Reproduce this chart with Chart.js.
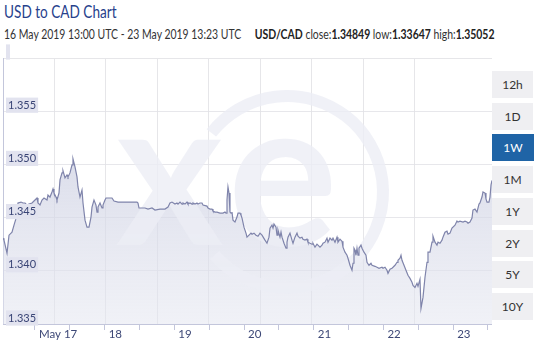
<!DOCTYPE html>
<html>
<head>
<meta charset="utf-8">
<script src="https://cdn.jsdelivr.net/npm/chart.js@4.4.0/dist/chart.umd.min.js"></script>
<style>
  body { margin: 0; width: 534px; height: 349px; overflow: hidden; background: #fff; position: relative;
         font-family: Lato, sans-serif; }
  #title { position: absolute; left: 4px; top: 1px; font-size: 17px; color: #27418c; white-space: nowrap;
           transform: scaleX(0.8); transform-origin: 0 0; }
  #sub { position: absolute; left: 4px; top: 27px; font-size: 12.5px; color: #333; white-space: nowrap;
         transform: scaleX(0.835); transform-origin: 0 0; }
  #sub b { color: #222; }
  #wrap { position: absolute; left: 0; top: 0; width: 492px; height: 349px; }
  #btns { position: absolute; left: 492px; top: 58px; width: 42px; height: 266px; }
  .b { position: absolute; left: 0; width: 41px; height: 27px; background: #efeff2; color: #333;
       font-size: 12px; text-align: center; line-height: 27px; }
  .b.on { background: #1f64a6; color: #fff; width: 42px; }
</style>
</head>
<body>
<div id="title">USD to CAD Chart</div>
<div id="sub">16 May 2019 13:00 UTC - 23 May 2019 13:23 UTC &nbsp;&nbsp;&nbsp; <b>USD/CAD</b> close:<b>1.34849</b> low:<b>1.33647</b> high:<b>1.35052</b></div>
<div id="wrap"><canvas id="c" width="492" height="349"></canvas></div>
<div id="btns"></div>
<script>
// hours since 16 May 2019 00:00 UTC
const hours = [
  13.0, 13.34, 14.38, 15.07, 16.10, 16.79, 17.82, 18.16, 19.20, 19.89, 20.58, 21.26, 21.95, 22.99,
  24.02, 24.71, 25.05, 25.74, 26.43, 27.12, 28.15, 28.49, 29.18, 29.87, 30.22, 30.56, 31.25, 31.59,
  32.28, 32.63, 33.32, 33.66, 34.35, 35.04, 35.38, 36.07, 36.76, 37.10, 37.79, 38.48, 38.82, 39.51,
  40.20, 40.55, 41.24, 41.92, 42.61, 43.30, 43.65, 44.33, 45.02, 45.37, 45.71, 46.40, 47.09, 47.43,
  48.12, 48.47, 49.15, 50.53, 51.22, 52.60, 55.01, 57.42, 59.14, 59.48, 59.83, 60.86, 61.89, 62.93,
  64.31, 65.34, 67.06, 68.78, 69.81, 70.50, 71.19, 72.22, 72.91, 73.26, 73.95, 74.64, 74.98, 75.67,
  76.36, 76.70, 77.39, 78.08, 78.42, 79.11, 79.80, 80.14, 80.83, 81.52, 81.87, 83.24, 83.59, 84.28,
  84.97, 85.31, 86.00, 86.69, 87.72, 88.75, 89.44, 89.79, 90.13, 90.47, 90.82, 91.16, 91.51, 91.85,
  92.20, 92.88, 93.57, 93.92, 94.61, 94.95, 95.30, 95.98, 96.67, 97.02, 97.70, 98.39, 98.74, 99.43,
  100.11, 100.80, 101.49, 102.18, 103.21, 103.90, 104.59, 104.94, 105.62, 105.97, 106.31, 107.00,
  107.35, 107.69, 108.38, 108.73, 109.07, 109.76, 110.45, 110.79, 111.14, 111.82, 112.51, 112.86,
  113.54, 114.23, 114.58, 115.27, 115.95, 116.30, 116.99, 117.68, 118.02, 118.71, 119.40, 119.74,
  120.43, 121.12, 121.46, 122.15, 122.84, 123.19, 123.87, 124.56, 124.91, 125.60, 126.28, 126.63,
  127.32, 128.01, 128.35, 129.04, 129.73, 130.07, 130.76, 131.45, 131.79, 132.48, 133.17, 133.52,
  133.86, 134.21, 134.55, 134.89, 135.24, 135.58, 136.27, 136.62, 137.30, 137.99, 138.34, 139.02,
  139.71, 140.06, 141.09, 141.78, 142.47, 143.50, 143.85, 144.53, 145.22, 145.57, 146.26, 146.94,
  147.29, 147.98, 148.67, 149.01, 149.70, 150.05, 150.39, 151.08, 151.76, 152.45, 153.14, 153.83,
  154.18, 154.86, 155.55, 155.90, 156.58, 156.93, 157.62, 157.96, 158.31, 159.00, 159.34, 160.03,
  160.72, 161.06, 161.75, 162.44, 162.79, 163.47, 164.16, 164.50, 165.19, 165.88, 166.23, 166.92,
  167.60, 168.64, 169.32, 169.67, 170.36, 171.39, 172.08, 172.77, 173.11, 173.80, 174.49, 174.83,
  175.52, 176.21, 176.55, 176.90, 177.24, 177.93, 178.28, 178.97, 179.31, 179.66, 180.34, 180.69,
  181.04, 181.38
];
const rates = [
  1.34307, 1.34288, 1.34165, 1.34335, 1.34363, 1.34429, 1.34524, 1.34637, 1.34646, 1.34637, 1.34637, 1.34618, 1.34627, 1.34637,
  1.34665, 1.34684, 1.34637, 1.34618, 1.34665, 1.34684, 1.34665, 1.34712, 1.34693, 1.34741, 1.34769, 1.34731, 1.34693, 1.34665,
  1.34731, 1.34854, 1.34920, 1.34939, 1.34873, 1.34901, 1.34882, 1.34920, 1.34995, 1.35052, 1.34976, 1.34882, 1.34788, 1.34693,
  1.34759, 1.34637, 1.34476, 1.34410, 1.34410, 1.34505, 1.34599, 1.34665, 1.34618, 1.34552, 1.34599, 1.34637, 1.34590, 1.34618,
  1.34665, 1.34684, 1.34684, 1.34684, 1.34656, 1.34646, 1.34646, 1.34646, 1.34646, 1.34637, 1.34590, 1.34590, 1.34590, 1.34580,
  1.34590, 1.34571, 1.34580, 1.34580, 1.34599, 1.34637, 1.34646, 1.34627, 1.34637, 1.34627, 1.34646, 1.34627, 1.34637, 1.34627,
  1.34646, 1.34627, 1.34637, 1.34627, 1.34637, 1.34627, 1.34637, 1.34627, 1.34637, 1.34637, 1.34618, 1.34608, 1.34590, 1.34580,
  1.34580, 1.34561, 1.34552, 1.34552, 1.34542, 1.34542, 1.34552, 1.34542, 1.34665, 1.34788, 1.34731, 1.34552, 1.34542, 1.34552,
  1.34476, 1.34458, 1.34505, 1.34542, 1.34542, 1.34524, 1.34495, 1.34410, 1.34354, 1.34316, 1.34335, 1.34354, 1.34344, 1.34354,
  1.34335, 1.34325, 1.34354, 1.34335, 1.34288, 1.34259, 1.34316, 1.34401, 1.34429, 1.34401, 1.34439, 1.34410,
  1.34335, 1.34382, 1.34316, 1.34363, 1.34316, 1.34259, 1.34212, 1.34269, 1.34316, 1.34354, 1.34288, 1.34259,
  1.34316, 1.34354, 1.34325, 1.34307, 1.34316, 1.34297, 1.34288, 1.34297, 1.34269, 1.34259, 1.34250, 1.34259,
  1.34222, 1.34250, 1.34241, 1.34222, 1.34241, 1.34259, 1.34269, 1.34307, 1.34269, 1.34307, 1.34288, 1.34307,
  1.34269, 1.34316, 1.34269, 1.34297, 1.34278, 1.34222, 1.34175, 1.34146, 1.34118, 1.34052, 1.34005, 1.34071,
  1.34212, 1.34193, 1.34146, 1.34212, 1.34146, 1.34212, 1.34241, 1.34212, 1.34175, 1.34146, 1.34080, 1.34052,
  1.34071, 1.34052, 1.34042, 1.34033, 1.34024, 1.34033, 1.34024, 1.34033, 1.34005, 1.33976, 1.34014, 1.34024,
  1.34033, 1.34052, 1.34080, 1.34099, 1.34118, 1.34146, 1.34099, 1.34052, 1.34005, 1.33958, 1.33929, 1.33892,
  1.33863, 1.33844, 1.33882, 1.33854, 1.33920, 1.33647, 1.33750, 1.33844, 1.33939, 1.34080, 1.34175, 1.34175,
  1.34269, 1.34325, 1.34269, 1.34241, 1.34269, 1.34259, 1.34288, 1.34316, 1.34363, 1.34373, 1.34344, 1.34354,
  1.34401, 1.34429, 1.34467, 1.34458, 1.34467, 1.34458, 1.34467, 1.34458, 1.34448, 1.34458, 1.34495, 1.34571,
  1.34580, 1.34552, 1.34590, 1.34627, 1.34637, 1.34693, 1.34741, 1.34731, 1.34675, 1.34646, 1.34646, 1.34693,
  1.34807, 1.34849
];
const dayLabels = ['May 17', '18', '19', '20', '21', '22', '23'];
const periods = ['12h', '1D', '1W', '1M', '1Y', '2Y', '5Y', '10Y'];
const activePeriod = '1W';

// period buttons on the right
const btns = document.getElementById('btns');
periods.forEach((p, i) => {
  const d = document.createElement('div');
  d.className = 'b' + (p === activePeriod ? ' on' : '');
  d.style.top = (13 + i * 31.7) + 'px';
  d.textContent = p;
  btns.appendChild(d);
});

function fillGradient(ctx) {
  const area = ctx.chart.chartArea;
  if (!area) return 'rgba(210,213,230,0.7)';
  const g = ctx.chart.ctx.createLinearGradient(0, area.top + 100, 0, area.bottom);
  g.addColorStop(0, 'rgba(208,211,228,0.75)');
  g.addColorStop(1, 'rgba(228,230,240,0.55)');
  return g;
}

// faint "xe" logo, painted over the fill but under the line
const watermark = {
  id: 'watermark',
  afterDatasetDraw(chart, args) {
    if (args.index !== 1) return;
    const c = chart.ctx;
    c.save();
    c.fillStyle = c.strokeStyle = 'rgba(236,238,245,0.8)';
    c.lineWidth = 12;
    c.beginPath();
    c.arc(287, 192, 96, -142 * Math.PI / 180, 139 * Math.PI / 180);
    c.stroke();
    c.font = '700 205px Lato';
    c.textBaseline = 'alphabetic';
    c.fillText('x', 116, 245);
    c.fillText('e', 228, 245);
    c.restore();
  }
};

const series = hours.map((h, i) => ({x: h, y: rates[i]}));

new Chart(document.getElementById('c'), {
  type: 'line',
  data: {
    datasets: [{
      data: series,
      borderColor: '#7f84ab',
      borderWidth: 1.2,
      fill: false,
      pointRadius: 0,
      tension: 0
    }, {
      data: series,
      borderWidth: 0,
      backgroundColor: fillGradient,
      fill: 'start',
      pointRadius: 0,
      tension: 0
    }]
  },
  plugins: [watermark],
  options: {
    responsive: false,
    animation: false,
    devicePixelRatio: 1,
    layout: {padding: {top: 58, left: 0, right: 0, bottom: 0}},
    plugins: {legend: {display: false}, tooltip: {enabled: false}},
    scales: {
      x: {
        type: 'linear',
        min: 13,
        max: 181.38,
        border: {color: '#c3c6db'},
        grid: {drawOnChartArea: false, drawTicks: true, tickLength: 6, color: '#c3c6db'},
        ticks: {
          stepSize: 12,
          includeBounds: false,
          autoSkip: false,
          maxRotation: 0,
          align: 'start',
          labelOffset: 4,
          padding: -3,
          color: '#3d4877',
          font: {family: 'Lato', size: 11.5},
          callback: v => (v % 24 === 0 ? dayLabels[v / 24 - 1] : '')
        },
        afterFit: s => { s.height = 25; }
      },
      xg: {
        type: 'linear',
        position: 'top',
        min: 0,
        max: 9.5,
        border: {display: true, color: '#e6e6e9'},
        grid: {color: '#e6e6e9', drawTicks: false},
        ticks: {display: false, stepSize: 1},
        afterFit: s => { s.height = 0; }
      },
      y: {
        min: 1.335,
        max: 1.36,
        border: {color: '#c3c6db'},
        grid: {color: 'rgba(225,225,230,0.8)', drawTicks: false},
        ticks: {
          z: 1,
          stepSize: 0.005,
          mirror: true,
          padding: 5,
          labelOffset: -6,
          color: '#3a4576',
          font: {family: 'Lato', size: 11},
          showLabelBackdrop: true,
          backdropColor: '#e2e3ef',
          backdropPadding: {x: 2, y: 1},
          callback: v => (v > 1.3599 ? '' : v.toFixed(3))
        },
        afterFit: s => { s.width = 3; }
      }
    }
  }
});
</script>
</body>
</html>
